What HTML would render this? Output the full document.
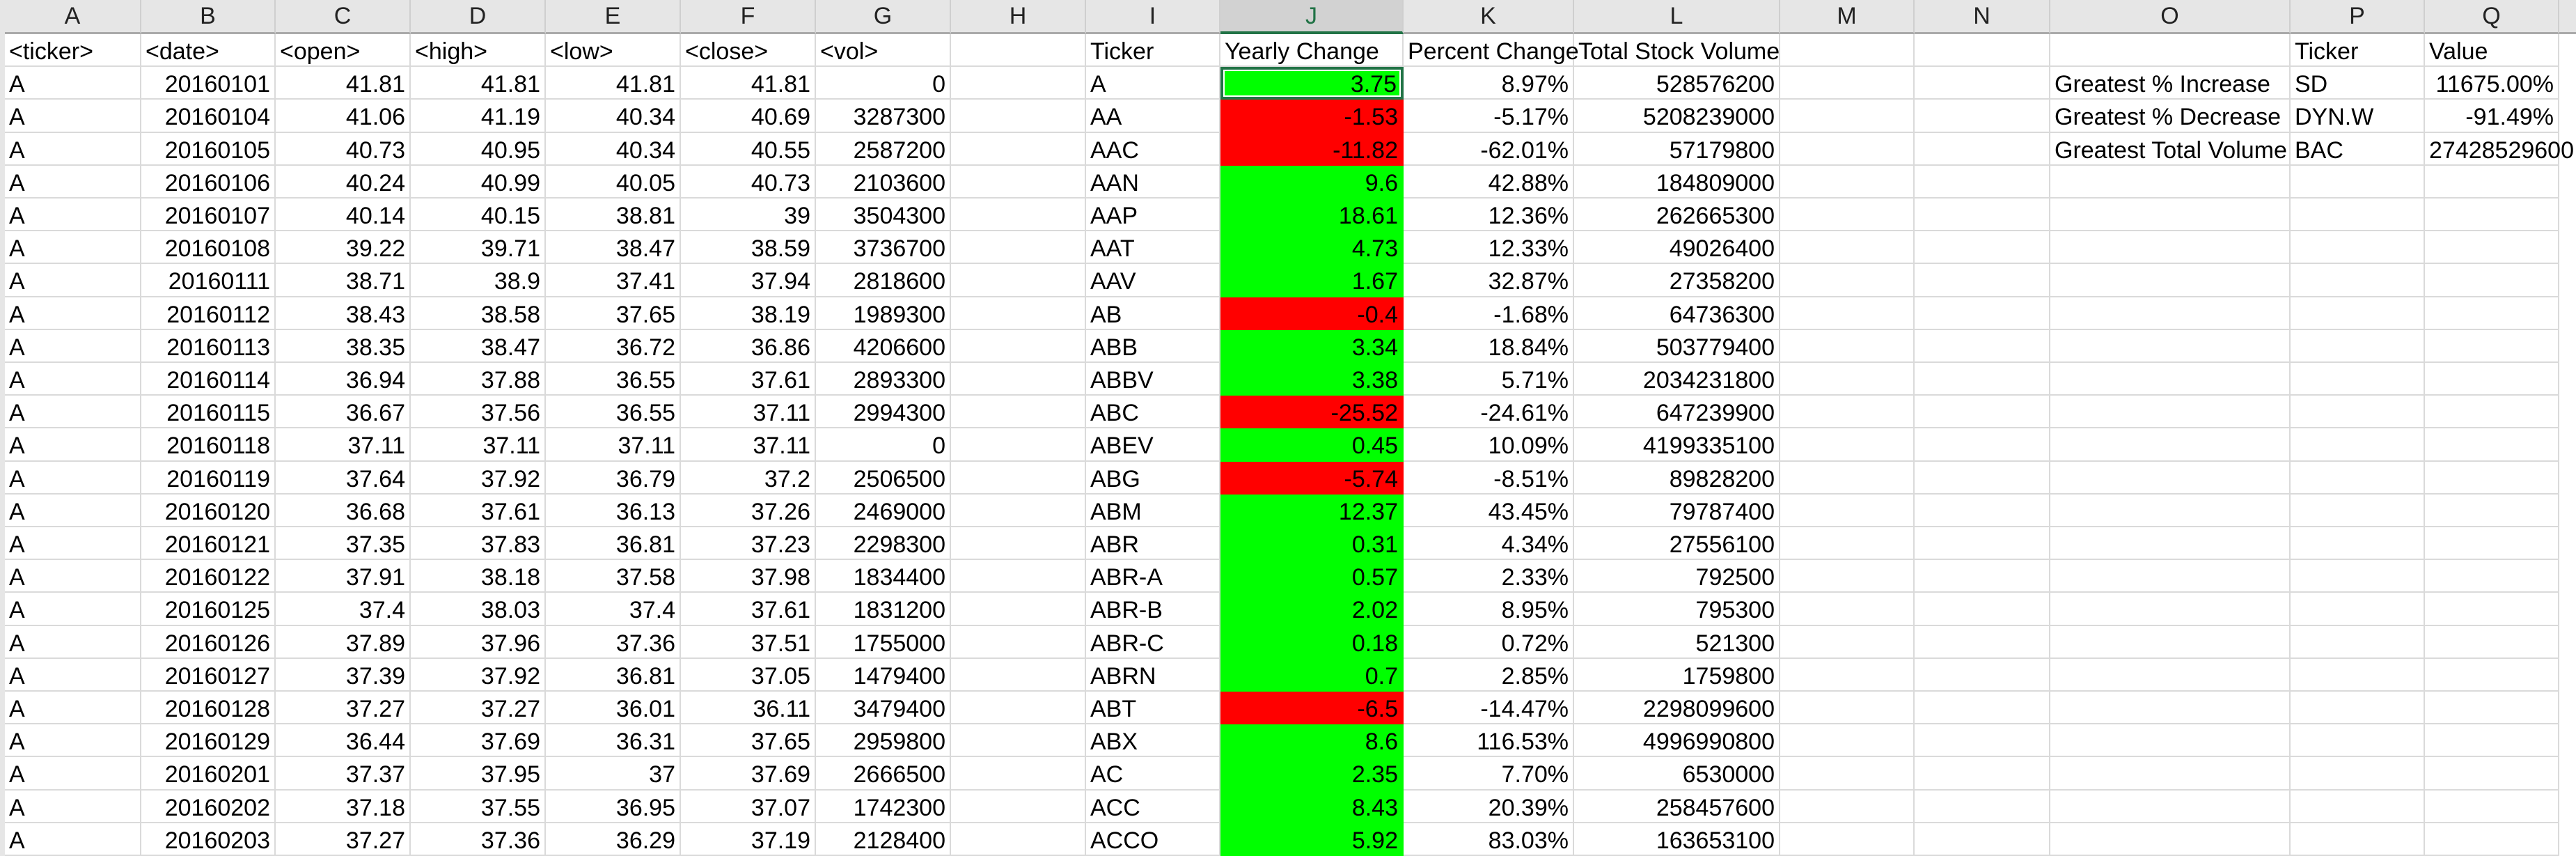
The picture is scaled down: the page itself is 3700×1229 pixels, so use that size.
<!DOCTYPE html>
<html><head><meta charset="utf-8">
<style>
html,body{margin:0;padding:0;background:#fff;}
#sheet{position:relative;width:3700px;height:1229px;overflow:hidden;font-family:"Liberation Sans",Arial,sans-serif;font-size:34px;color:#000;}
.c{position:absolute;box-sizing:border-box;border-right:2px solid #dadada;border-bottom:2px solid #dadada;white-space:nowrap;padding:0 6px;line-height:50px;overflow:visible;}
.r{text-align:right;}
.h{background:#e6e6e6;text-align:center;border-right:2px solid #cfcfcf;border-bottom:3px solid #aaa;color:#222;font-size:34px;line-height:46px;}
</style></head><body>
<div id="sheet"></div>
<script>
const colEdges=[7,203,396,590,784,978,1172,1366,1560,1753,2016,2261,2557,2750,2945,3290,3483,3676];
const colLetters=["A","B","C","D","E","F","G","H","I","J","K","L","M","N","O","P","Q"];
const rawHeaders=["<ticker>","<date>","<open>","<high>","<low>","<close>","<vol>"];
const dates=["20160101","20160104","20160105","20160106","20160107","20160108","20160111","20160112","20160113","20160114","20160115","20160118","20160119","20160120","20160121","20160122","20160125","20160126","20160127","20160128","20160129","20160201","20160202","20160203"];
const opens=["41.81","41.06","40.73","40.24","40.14","39.22","38.71","38.43","38.35","36.94","36.67","37.11","37.64","36.68","37.35","37.91","37.4","37.89","37.39","37.27","36.44","37.37","37.18","37.27"];
const highs=["41.81","41.19","40.95","40.99","40.15","39.71","38.9","38.58","38.47","37.88","37.56","37.11","37.92","37.61","37.83","38.18","38.03","37.96","37.92","37.27","37.69","37.95","37.55","37.36"];
const lows=["41.81","40.34","40.34","40.05","38.81","38.47","37.41","37.65","36.72","36.55","36.55","37.11","36.79","36.13","36.81","37.58","37.4","37.36","36.81","36.01","36.31","37","36.95","36.29"];
const closes=["41.81","40.69","40.55","40.73","39","38.59","37.94","38.19","36.86","37.61","37.11","37.11","37.2","37.26","37.23","37.98","37.61","37.51","37.05","36.11","37.65","37.69","37.07","37.19"];
const vols=["0","3287300","2587200","2103600","3504300","3736700","2818600","1989300","4206600","2893300","2994300","0","2506500","2469000","2298300","1834400","1831200","1755000","1479400","3479400","2959800","2666500","1742300","2128400"];
const tickers=["A","AA","AAC","AAN","AAP","AAT","AAV","AB","ABB","ABBV","ABC","ABEV","ABG","ABM","ABR","ABR-A","ABR-B","ABR-C","ABRN","ABT","ABX","AC","ACC","ACCO"];
const yearly=["3.75","-1.53","-11.82","9.6","18.61","4.73","1.67","-0.4","3.34","3.38","-25.52","0.45","-5.74","12.37","0.31","0.57","2.02","0.18","0.7","-6.5","8.6","2.35","8.43","5.92"];
const pct=["8.97%","-5.17%","-62.01%","42.88%","12.36%","12.33%","32.87%","-1.68%","18.84%","5.71%","-24.61%","10.09%","-8.51%","43.45%","4.34%","2.33%","8.95%","0.72%","2.85%","-14.47%","116.53%","7.70%","20.39%","83.03%"];
const totals=["528576200","5208239000","57179800","184809000","262665300","49026400","27358200","64736300","503779400","2034231800","647239900","4199335100","89828200","79787400","27556100","792500","795300","521300","1759800","2298099600","4996990800","6530000","258457600","163653100"];
const sumLabels=["Greatest % Increase","Greatest % Decrease","Greatest Total Volume"];
const sumTickers=["SD","DYN.W","BAC"];
const sumValues=["11675.00%","-91.49%","27428529600"];

const sheet=document.getElementById('sheet');
const headH=49, rowH=47.2;
function cell(col,row,text,right,name){
  const d=document.createElement('div');
  d.className='c'+(right?' r':'');
  const x=colEdges[col], w=colEdges[col+1]-x;
  const y=headH+row*rowH;
  d.style.left=x+'px';d.style.top=y+'px';d.style.width=w+'px';d.style.height=rowH+'px';
  d.textContent=text;
  
  
  sheet.appendChild(d);
  return d;
}
const g=document.createElement('div');
g.style.cssText='position:absolute;left:0;top:0;width:7px;height:1229px;background:#e6e6e6;';


sheet.appendChild(g);
for(let i=0;i<colLetters.length;i++){
  const d=document.createElement('div');
  d.className='c h';
  d.style.left=colEdges[i]+'px';d.style.top='0px';d.style.width=(colEdges[i+1]-colEdges[i])+'px';d.style.height=headH+'px';
  d.textContent=colLetters[i];
  if(colLetters[i]==='J'){d.style.background='#d2d2d2';d.style.borderBottom='4px solid #217346';d.style.color='#217346';}
  
  
  sheet.appendChild(d);
}
const rest=document.createElement('div');
rest.style.cssText='position:absolute;left:3676px;top:0;width:24px;height:49px;background:#e6e6e6;border-bottom:3px solid #aaa;box-sizing:border-box;';


sheet.appendChild(rest);
rawHeaders.forEach((t,i)=>cell(i,0,t,false,'raw-header'));
cell(7,0,'',false,'empty-cell');
cell(8,0,'Ticker',false,'ticker-header');
cell(9,0,'Yearly Change',false,'yearly-change-header');
cell(10,0,'Percent Change',false,'percent-change-header');
cell(11,0,'Total Stock Volume',false,'total-volume-header');
cell(12,0,'',false,'empty-cell');cell(13,0,'',false,'empty-cell');cell(14,0,'',false,'empty-cell');
cell(15,0,'Ticker',false,'summary-ticker-header');
cell(16,0,'Value',false,'summary-value-header');
for(let r=0;r<dates.length;r++){
  const row=r+1;
  cell(0,row,'A',false,'ticker-cell');
  cell(1,row,dates[r],true,'date-cell');
  cell(2,row,opens[r],true,'open-cell');
  cell(3,row,highs[r],true,'high-cell');
  cell(4,row,lows[r],true,'low-cell');
  cell(5,row,closes[r],true,'close-cell');
  cell(6,row,vols[r],true,'vol-cell');
  cell(7,row,'',false,'empty-cell');
  cell(8,row,tickers[r],false,'summary-ticker-cell');
  const y=cell(9,row,yearly[r],true,'yearly-change-cell');
  y.style.background=parseFloat(yearly[r])<0?'#ff0000':'#00ff00';
  y.style.borderColor=parseFloat(yearly[r])<0?'#ff0000':'#00ff00';
  if(r===0){y.style.border='4px solid #217346';y.style.boxShadow='inset 0 0 0 2px #fff';y.style.lineHeight='42px';}
  cell(10,row,pct[r],true,'percent-change-cell');
  cell(11,row,totals[r],true,'total-volume-cell');
  cell(12,row,'',false,'empty-cell');cell(13,row,'',false,'empty-cell');
  cell(14,row,r<3?sumLabels[r]:'',false,'greatest-label-cell');
  cell(15,row,r<3?sumTickers[r]:'',false,'greatest-ticker-cell');
  cell(16,row,r<3?sumValues[r]:'',true,'greatest-value-cell');
}
</script>
</body></html>
